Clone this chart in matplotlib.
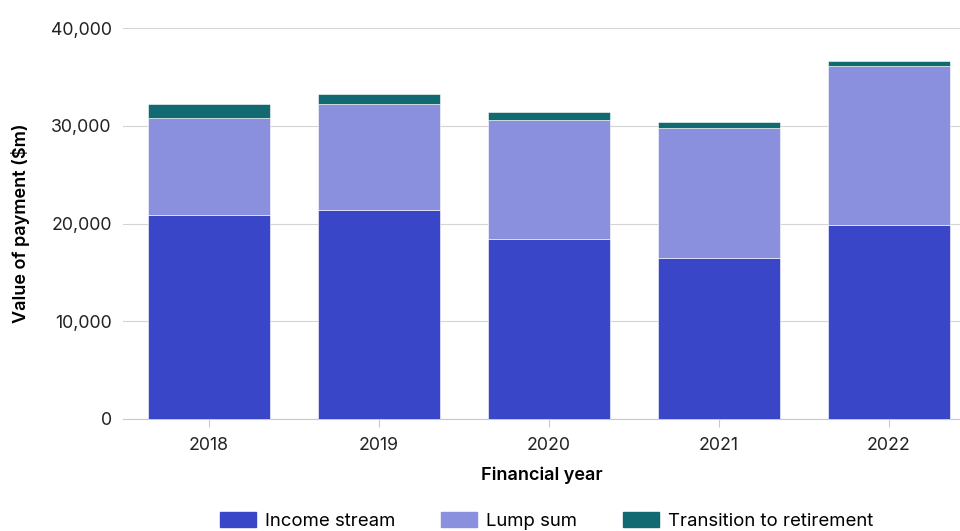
import matplotlib
matplotlib.use("Agg")
import matplotlib.pyplot as plt
from matplotlib.patches import Patch

years = ["2018", "2019", "2020", "2021", "2022"]
income_stream = [20900, 21400, 18400, 16500, 19900]
lump_sum = [9900, 10800, 12200, 13300, 16200]
transition = [1450, 1100, 800, 600, 500]

c_income = "#3A46C8"
c_lump = "#8A90DE"
c_trans = "#116A72"

plt.rcParams['font.family'] = ['Inter', 'DejaVu Sans']

fig = plt.figure(figsize=(9.6, 5.31), dpi=100)
ax = fig.add_axes([0.128, 0.211, 0.872, 0.736])

x = list(range(len(years)))
w = 0.72
ax.bar(x, income_stream, w, color=c_income, edgecolor="white", linewidth=0.4, zorder=3)
bottom2 = income_stream
ax.bar(x, lump_sum, w, bottom=bottom2, color=c_lump, edgecolor="white", linewidth=0.4, zorder=3)
bottom3 = [a + b for a, b in zip(income_stream, lump_sum)]
ax.bar(x, transition, w, bottom=bottom3, color=c_trans, edgecolor="white", linewidth=0.4, zorder=3)

ax.set_ylim(0, 40000)
ax.set_xlim(-0.506, 4.418)
ax.set_yticks([0, 10000, 20000, 30000, 40000])
ax.set_yticklabels(["0", "10,000", "20,000", "30,000", "40,000"])
ax.set_xticks(x)
ax.set_xticklabels(years)
ax.yaxis.grid(True, color="#d4d4d4", linewidth=0.8, zorder=0)
ax.set_axisbelow(True)
for s in ["top", "right", "left"]:
    ax.spines[s].set_visible(False)
ax.spines["bottom"].set_color("#c8c8c8")
ax.tick_params(axis="y", length=0, pad=8, labelsize=12.8, colors="#222222")
ax.tick_params(axis="x", length=6, color="#c8c8c8", pad=7, labelsize=12.8, labelcolor="#222222")

ax.set_xlabel("Financial year", fontsize=13, fontweight="semibold", labelpad=9)
ax.set_ylabel("Value of payment ($m)", fontsize=13, fontweight="semibold", labelpad=15)

handles = [Patch(color=c_income, label="Income stream"),
           Patch(color=c_lump, label="Lump sum"),
           Patch(color=c_trans, label="Transition to retirement")]
fig.legend(handles=handles, loc="center", bbox_to_anchor=(0.569, 0.019), ncol=3,
           frameon=False, fontsize=13.4, handlelength=1.93, handleheight=0.9,
           columnspacing=2.47, handletextpad=0.48, borderpad=0, borderaxespad=0)

fig.savefig("out.png", dpi=100)
